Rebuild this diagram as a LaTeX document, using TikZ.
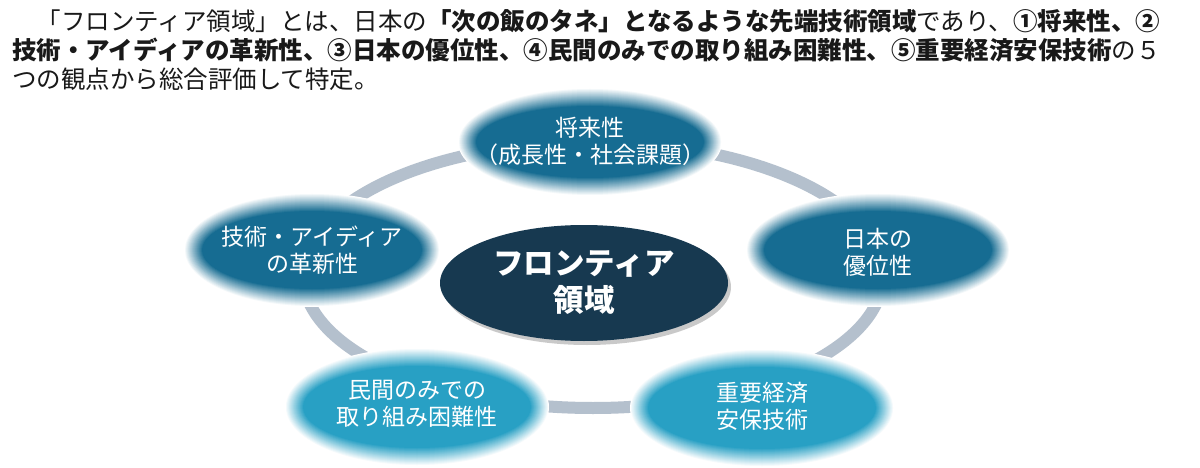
\documentclass[tikz,border=0pt]{standalone}
\usepackage{fontspec}
\setmainfont{Noto Sans CJK JP}
\usetikzlibrary{shapes.geometric,shadows}
\definecolor{ringc}{RGB}{180,192,205}
\definecolor{deepb}{RGB}{22,108,146}
\definecolor{lightb}{RGB}{40,160,196}
\definecolor{navy}{RGB}{23,57,80}
\definecolor{txt}{RGB}{25,25,25}
\newcommand\glowfill[4]{%
  \foreach \i in {0,...,20}{%
    \pgfmathtruncatemacro\pc{min(100,\i*100/18)}%
    \pgfmathsetmacro\rx{#2-\i}\pgfmathsetmacro\ry{#3-\i}%
    \fill[#4!\pc!white] #1 ellipse [x radius=\rx pt, y radius=\ry pt];}%
}
\begin{document}
\begin{tikzpicture}[x=1pt,y=-1pt,
  hdr/.style={anchor=base west,inner sep=0pt,text=txt,font=\fontsize{24.5}{29}\selectfont},
  ringline/.style={draw=ringc,line width=12pt},
  outertext/.style={align=center,text=white,inner sep=0pt,font=\fontsize{23}{27}\selectfont},
  core/.style={ellipse,fill=navy,text=white,align=center,inner sep=0pt,
    font=\fontsize{30.5}{37}\selectfont\bfseries,
    drop shadow={shadow xshift=3pt,shadow yshift=-4pt,opacity=0.35,fill=black!60}}]
\useasboundingbox (0,0) rectangle (1200,468);
\fill[white] (0,0) rectangle (1200,468);

% header text
\node[hdr] (l1) at (12,31) {　「フロンティア領域」とは、日本の\textbf{「次の飯のタネ」となるような先端技術領域}であり、\textbf{①将来性、②}};
\node[hdr] (l2) at (12,60) {\textbf{技術・アイディアの革新性、③日本の優位性、④民間のみでの取り組み困難性、⑤重要経済安保技術}の５};
\node[hdr] (l3) at (12,89) {つの観点から総合評価して特定。};

% ring
\draw[ringline] (593,275) ellipse [x radius=290pt, y radius=133pt];

% outer ellipses
\glowfill{(590,142)}{132}{54}{deepb}
\node[outertext] (top) at (590,141) {将来性\\（成長性・社会課題）};

\glowfill{(312,250)}{128}{57}{deepb}
\node[outertext] (left) at (312,250) {技術・アイディア\\の革新性};

\glowfill{(878,250)}{132}{57}{deepb}
\node[outertext] (right) at (878,252) {日本の\\優位性};

\glowfill{(417,407)}{132}{59}{lightb}
\node[outertext] (bl) at (417,404) {民間のみでの\\取り組み困難性};

\glowfill{(762,408)}{132}{59}{lightb}
\node[outertext] (br) at (762,406) {重要経済\\安保技術};

% centre
\node[core,minimum width=288pt,minimum height=116pt] (center) at (584,283) {フロンティア\\領域};
\end{tikzpicture}
\end{document}
